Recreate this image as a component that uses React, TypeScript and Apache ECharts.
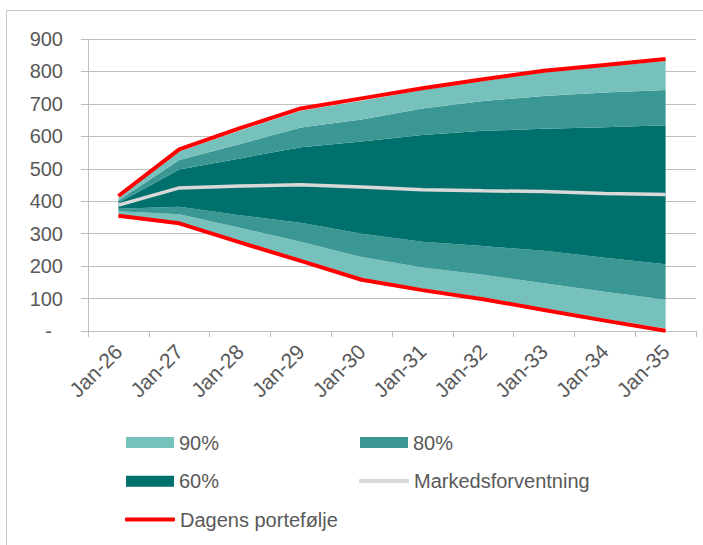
import React, { useEffect, useRef } from "react";
import * as echarts from "echarts";

const categories = ["Jan-26", "Jan-27", "Jan-28", "Jan-29", "Jan-30", "Jan-31", "Jan-32", "Jan-33", "Jan-34", "Jan-35"];

const p90Upper = [410, 553, 618, 679, 710, 743, 770, 797, 815, 832];
const p80Upper = [402, 527, 576, 627, 652, 686, 709, 724, 735, 743];
const p60Upper = [395, 498, 532, 566, 584, 604, 617, 623, 628, 634];
const markedsforventning = [388, 441, 447, 451, 444, 435, 432, 430, 424, 421];
const p60Lower = [377, 383, 357, 334, 300, 275, 262, 247, 226, 206];
const p80Lower = [369, 360, 318, 275, 228, 196, 173, 147, 121, 96];
const p90Lower = [360, 336, 278, 222, 163, 131, 103, 70, 37, 8];
const dagensUpper = [416, 560, 625, 686, 717, 748, 776, 802, 820, 838];
const dagensLower = [355, 332, 273, 216, 158, 126, 98, 65, 32, 1];

const LIGHT = "#77c1bd";
const MID = "#3b9794";
const DARK = "#00706c";
const MEDIAN = "#d9d9d9";
const RED = "#ff0000";
const FONT = "'Liberation Sans', Arial, sans-serif";
const TEXT = "#595959";
const GRID = "#bfbfbf";

const diff = (a: number[], b: number[]) => a.map((v, i) => v - b[i]);

function band(name: string, data: number[], color: string) {
  return {
    name,
    type: "line",
    stack: "band",
    data,
    color,
    itemStyle: { color },
    symbol: "none",
    lineStyle: { width: 0, opacity: 0 },
    areaStyle: { color, opacity: 1 },
    z: 2,
  };
}

function legendItem(name: string, left: number, centerY: number, color: string, isLine: boolean) {
  const h = isLine ? 4 : 11;
  return {
    left,
    top: centerY - 12,
    padding: 0,
    itemWidth: isLine ? 50 : 48,
    itemHeight: h,
    textStyle: { fontSize: 20, color: TEXT, fontFamily: FONT, lineHeight: 24 },
    data: [{ name, icon: isLine ? "roundRect" : "rect", itemStyle: { color, opacity: 1 } }],
  };
}

export default function App() {
  const ref = useRef<HTMLDivElement>(null);
  useEffect(() => {
    document.body.style.margin = "0";
    const chart = echarts.init(ref.current!, null, { renderer: "svg" });
    const option = {
      animation: false,
      textStyle: { fontFamily: FONT },
      grid: { left: 88, right: 7, top: 39, bottom: 214, containLabel: false },
      graphic: [
        {
          type: "rect",
          shape: { x: 6.5, y: 10.5, width: 800, height: 600 },
          style: { fill: "none", stroke: "#c8c8c8", lineWidth: 1 },
          silent: true,
        },
      ],
      legend: [
        legendItem("90%", 126, 442.5, LIGHT, false),
        legendItem("80%", 360, 442.5, MID, false),
        legendItem("60%", 126, 481.3, DARK, false),
        legendItem("Markedsforventning", 359, 481, MEDIAN, true),
        legendItem("Dagens portefølje", 125, 519.5, RED, true),
      ],
      xAxis: {
        type: "category",
        data: categories,
        boundaryGap: true,
        axisLine: { lineStyle: { color: GRID, width: 1 } },
        axisTick: { show: true, length: 6, lineStyle: { color: GRID } },
        axisLabel: { rotate: 45, margin: 17, fontSize: 21, color: TEXT, fontFamily: FONT },
        splitLine: { show: false },
      },
      yAxis: {
        type: "value",
        min: 0,
        max: 900,
        interval: 100,
        axisLine: { show: true, lineStyle: { color: GRID, width: 1 } },
        axisTick: { show: true, length: 7, lineStyle: { color: GRID } },
        splitLine: { show: true, lineStyle: { color: GRID, width: 1 } },
        axisLabel: {
          margin: 25,
          fontSize: 20,
          color: TEXT,
          fontFamily: FONT,
          formatter: (v: number) => (v === 0 ? "{d|-}" : String(v)),
          rich: { d: { padding: [0, 11, 0, 0], fontSize: 20, color: TEXT, fontFamily: FONT } },
        },
      },
      series: [
        {
          name: "base",
          type: "line",
          stack: "band",
          data: p90Lower,
          symbol: "none",
          lineStyle: { width: 0, opacity: 0 },
          areaStyle: { opacity: 0 },
          silent: true,
        },
        band("90%", diff(p80Lower, p90Lower), LIGHT),
        band("80%", diff(p60Lower, p80Lower), MID),
        band("60%", diff(p60Upper, p60Lower), DARK),
        band("80%", diff(p80Upper, p60Upper), MID),
        band("90%", diff(p90Upper, p80Upper), LIGHT),
        {
          name: "Markedsforventning",
          type: "line",
          data: markedsforventning,
          symbol: "none",
          color: MEDIAN,
          lineStyle: { color: MEDIAN, width: 3.5 },
          z: 3,
        },
        {
          name: "Dagens portefølje",
          type: "line",
          data: dagensUpper,
          symbol: "none",
          color: RED,
          lineStyle: { color: RED, width: 4 },
          z: 4,
        },
        {
          name: "Dagens portefølje",
          type: "line",
          data: dagensLower,
          symbol: "none",
          color: RED,
          lineStyle: { color: RED, width: 4 },
          z: 4,
        },
      ],
    };
    chart.setOption(option as any);
    return () => chart.dispose();
  }, []);
  return <div ref={ref} style={{ width: 703, height: 545 }} />;
}
